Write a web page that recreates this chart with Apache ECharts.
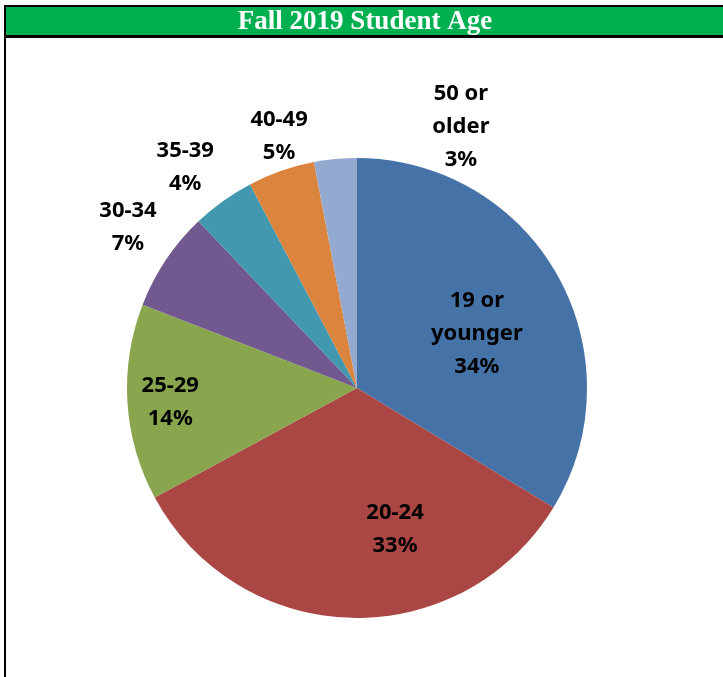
<!DOCTYPE html>
<html>
<head>
<meta charset="utf-8">
<script src="https://cdn.jsdelivr.net/npm/echarts@6/dist/echarts.min.js"></script>
<style>
html,body{margin:0;padding:0;background:#fff;}
#chart{width:723px;height:677px;}
</style>
</head>
<body>
<div id="chart"></div>
<script>
const titleText = 'Fall 2019 Student Age';
const categories = ['19 or\nyounger', '20-24', '25-29', '30-34', '35-39', '40-49', '50 or\nolder'];
const values = [33.7, 33.4, 13.8, 7.0, 4.4, 4.7, 3.0];
const colors = ['#4572A7', '#AA4643', '#89A54E', '#71588F', '#4198AF', '#DB843D', '#93A9CF'];
const labelOffsets = [[17, 4], [41, 23], [-69, 7], [-131, -95], [-103, -125], [-39, -140], [115, -144]];

const chart = echarts.init(document.getElementById('chart'), null, {renderer: 'canvas'});

const data = categories.map((name, i) => ({
  name: name,
  value: values[i],
  itemStyle: {color: colors[i]},
  label: {offset: labelOffsets[i]}
}));

chart.setOption({
  animation: false,
  backgroundColor: '#ffffff',
  graphic: [
    {type: 'rect', shape: {x: 6, y: 7, width: 717, height: 28}, style: {fill: '#00B050'}, z: 10},
    {type: 'rect', shape: {x: 4, y: 5, width: 719, height: 2}, style: {fill: '#000'}, z: 11},
    {type: 'rect', shape: {x: 4, y: 35, width: 719, height: 3}, style: {fill: '#000'}, z: 11},
    {type: 'rect', shape: {x: 4, y: 5, width: 2, height: 672}, style: {fill: '#000'}, z: 11},
    {type: 'text', x: 365, y: 22, style: {text: titleText, fill: '#fff', font: 'bold 27px "Liberation Serif", "Times New Roman", serif', textAlign: 'center', textVerticalAlign: 'middle'}, z: 12}
  ],
  series: [{
    type: 'pie',
    center: [357, 388],
    radius: [0, 230],
    startAngle: 90,
    clockwise: true,
    avoidLabelOverlap: false,
    minShowLabelAngle: 0,
    labelLayout: {hideOverlap: false},
    emphasis: {disabled: true},
    itemStyle: {borderWidth: 0},
    label: {
      show: true,
      position: 'inside',
      color: '#000',
      fontFamily: '"Noto Sans", "Open Sans", sans-serif',
      fontWeight: 'bold',
      fontSize: 22,
      lineHeight: 33,
      align: 'center',
      formatter: p => p.name + '\n' + Math.round(p.percent) + '%'
    },
    labelLine: {show: false},
    data: data
  }]
});
</script>
</body>
</html>
